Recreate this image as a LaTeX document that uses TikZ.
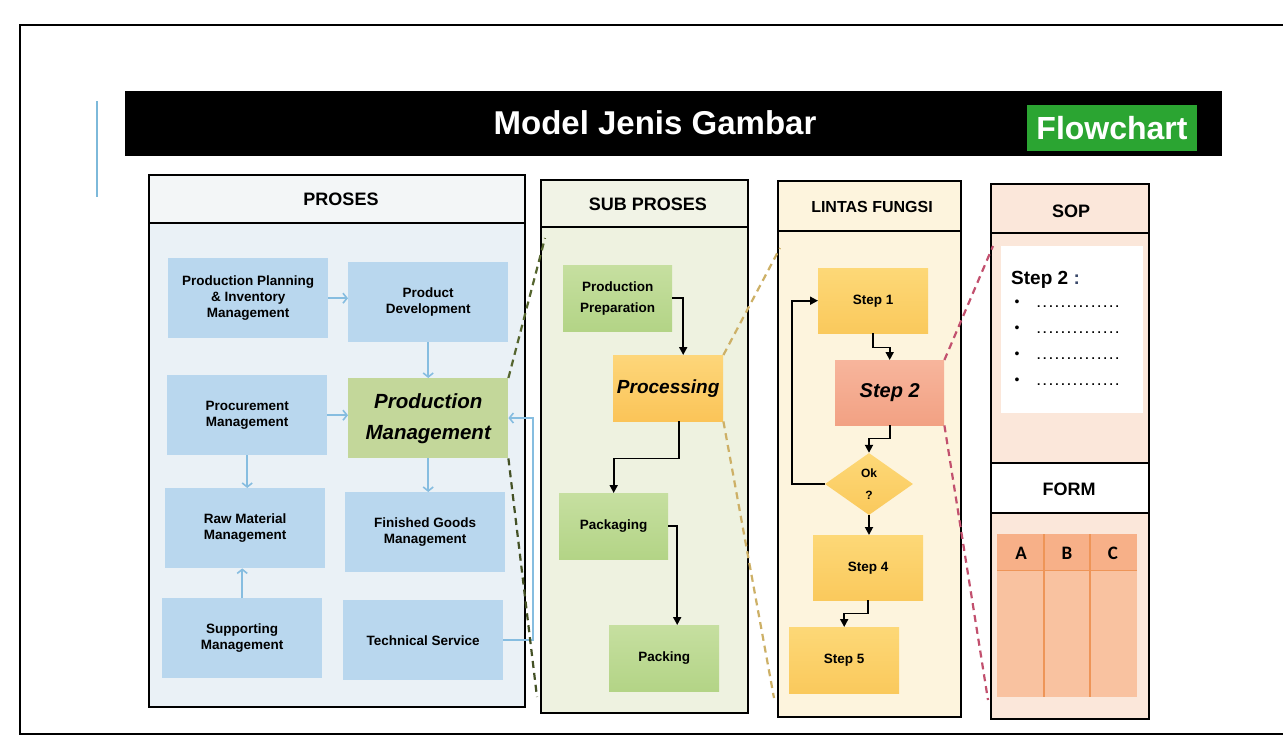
\documentclass[tikz,border=0pt]{standalone}
\usepackage{fontspec}
\setmainfont{Liberation Sans}
\newfontfamily\carlito{Carlito}
\usetikzlibrary{arrows.meta,shapes.geometric}

\definecolor{boxblue}{HTML}{B9D7EE}
\definecolor{arrowblue}{HTML}{86BDE0}
\definecolor{pmgreen}{HTML}{C3D79A}
\definecolor{prosesbg}{HTML}{EAF1F6}
\definecolor{proseshd}{HTML}{F3F6F7}
\definecolor{subbg}{HTML}{EEF2E0}
\definecolor{subhd}{HTML}{F1F3E6}
\definecolor{subgreenA}{HTML}{C6DFA0}
\definecolor{subgreenB}{HTML}{B3D486}
\definecolor{procA}{HTML}{FDD67A}
\definecolor{procB}{HTML}{FBC458}
\definecolor{lintasbg}{HTML}{FDF4DD}
\definecolor{stepA}{HTML}{FDD877}
\definecolor{stepB}{HTML}{FAC95C}
\definecolor{salmonA}{HTML}{F7B59C}
\definecolor{salmonB}{HTML}{F2A183}
\definecolor{sopbg}{HTML}{FBE7DA}
\definecolor{tabhead}{HTML}{F7B088}
\definecolor{tabbody}{HTML}{F9C2A0}
\definecolor{tabline}{HTML}{EE9558}
\definecolor{flowgreen}{HTML}{2BA532}
\definecolor{linkblue}{HTML}{7DB9DA}
\definecolor{dashgreen}{HTML}{55652F}
\definecolor{dashyellow}{HTML}{CDB066}
\definecolor{dashred}{HTML}{C2506E}
\definecolor{coltext}{HTML}{3B4A6B}

\newcommand\sopdots{.\kern2.7pt.\kern2.7pt.\kern2.7pt.\kern2.7pt.\kern2.7pt.\kern2.7pt.\kern2.7pt.\kern2.7pt.\kern2.7pt.\kern2.7pt.\kern2.7pt.\kern2.7pt.\kern2.7pt.}

\tikzset{
  panel/.style={draw=black, line width=2.2pt},
  hdtext/.style={font=\bfseries\fontsize{18}{20}\selectfont, inner sep=0pt},
  pbox/.style={fill=boxblue, minimum width=160pt, minimum height=80pt, inner sep=0pt,
    anchor=north west, align=center, font=\bfseries\fontsize{13.5}{16}\selectfont},
  gbox/.style={top color=subgreenA, bottom color=subgreenB, minimum width=109pt,
    minimum height=66pt, inner sep=0pt, anchor=north west, align=center,
    font=\bfseries\fontsize{13.5}{21}\selectfont},
  sbox/.style={top color=stepA, bottom color=stepB, minimum width=110pt,
    minimum height=65pt, inner sep=0pt, anchor=north west, align=center,
    font=\bfseries\fontsize{13.5}{16}\selectfont},
  bigital/.style={font=\bfseries\itshape\fontsize{20.5}{31}\selectfont},
  barrow/.style={draw=arrowblue, line width=1.6pt, -{Straight Barb[length=4pt,width=10pt]}},
  karrow/.style={draw=black, line width=1.8pt, -{Triangle[length=8pt,width=8pt]}},
  zoomdash/.style={line width=2.2pt, dash pattern=on 7pt off 5pt},
  tabletter/.style={font=\carlito\bfseries\fontsize{19}{20}\selectfont, inner sep=0pt},
}

\begin{document}
\begin{tikzpicture}[x=1pt,y=-1pt]
\useasboundingbox (0,0) rectangle (1283,745);
\fill[white] (0,0) rectangle (1283,745);

% page frame
\draw[line width=1.8pt] (1290,25) -- (20,25) -- (20,734) -- (1290,734);
\draw[linkblue, line width=1.4pt] (97,101) -- (97,197);

% title bar
\fill[black] (125,91) rectangle (1222,156);
\node[font=\bfseries\fontsize{33}{38}\selectfont, text=white, inner sep=0pt] (ttl) at (655,123) {Model Jenis Gambar};
\node[fill=flowgreen, text=white, font=\bfseries\fontsize{32}{38}\selectfont,
      minimum width=170pt, minimum height=46pt, inner sep=0pt] (flow) at (1112,128) {Flowchart};

% ---------- PROSES panel ----------
\fill[prosesbg] (149,175) rectangle (525,707);
\fill[proseshd] (149,175) rectangle (525,223);
\draw[panel] (149,223) -- (525,223);
\draw[panel] (149,175) rectangle (525,707);
\node[hdtext] (hproses) at (341,199) {PROSES};

\node[pbox] (pp) at (168,258) {Production Planning\\\& Inventory\\Management};
\node[pbox] (pd) at (348,262) {Product\\Development};
\node[pbox] (proc) at (167,375) {Procurement\\Management};
\node[pbox, fill=pmgreen, bigital] (pm) at (348,378) {Production\\Management};
\node[pbox] (raw) at (165,488) {Raw Material\\Management};
\node[pbox] (fg) at (345,492) {Finished Goods\\Management};
\node[pbox] (supp) at (162,598) {Supporting\\Management};
\node[pbox] (tech) at (343,600) {Technical Service};

\draw[barrow] (pp.east) -- (pp.east -| pd.west);
\draw[barrow] (pd.south) -- (pd.south |- pm.north);
\draw[barrow] (proc.east) -- (proc.east -| pm.west);
\draw[barrow] (proc.south) -- (proc.south |- raw.north);
\draw[barrow] (pm.south) -- (pm.south |- fg.north);
\draw[barrow] (supp.north) -- (supp.north |- raw.south);
\coordinate (tsv) at (533,418);
\draw[barrow] (tech.east) -| (tsv) -- (tsv -| pm.east);

% ---------- SUB PROSES panel ----------
\fill[subbg] (541,180) rectangle (748,713);
\fill[subhd] (541,180) rectangle (748,227);
\draw[panel] (541,227) -- (748,227);
\draw[panel] (541,180) rectangle (748,713);
\node[hdtext] (hsub) at (648,204) {SUB PROSES};

\node[gbox] (prep) at (563,265) {Production\\Preparation};
\node[gbox, top color=procA, bottom color=procB, minimum width=110pt,
      font=\bfseries\itshape\fontsize{19}{22}\selectfont] (procg) at (613,355) {Processing};
\node[gbox] (pkg) at (559,493) {Packaging};
\node[gbox, minimum width=110pt] (pck) at (609,625) {Packing};

\draw[karrow] (prep.east) -| ([xshift=15pt]procg.north);
\draw[karrow] ([xshift=11pt]procg.south) -- ++(0,37) -| (pkg.north);
\draw[karrow] (pkg.east) -| ([xshift=13pt]pck.north);

% ---------- LINTAS FUNGSI panel ----------
\fill[lintasbg] (778,181) rectangle (961,717);
\draw[panel] (778,231) -- (961,231);
\draw[panel] (778,181) rectangle (961,717);
\node[hdtext, font=\bfseries\fontsize{16}{18}\selectfont] (hlintas) at (872,207) {LINTAS FUNGSI};

\node[sbox] (s1) at (818,268) {Step 1};
\node[sbox, top color=salmonA, bottom color=salmonB, minimum width=109pt,
      font=\bfseries\itshape\fontsize{20}{24}\selectfont] (s2) at (835,360) {Step 2};
\node[diamond, top color=stepA, bottom color=stepB, minimum width=88pt, minimum height=62pt,
      inner sep=0pt, align=center, font=\bfseries\fontsize{12}{22}\selectfont] (ok) at (869,484) {Ok\\?};
\node[sbox] (s4) at (813,535) {Step 4};
\node[sbox, minimum height=66pt] (s5) at (789,627) {Step 5};

\draw[karrow] (s1.south) -- ++(0,14) -| (s2.north);
\draw[karrow] (s2.south) -- ++(0,13) -| (ok.north);
\draw[karrow] (ok.south) -- (ok.south |- s4.north);
\draw[karrow] (s4.south) -- ++(0,13) -| (s5.north);
\draw[karrow] (ok.west) -- ++(-33,0) |- (s1.west);

% ---------- SOP / FORM panel ----------
\fill[sopbg] (991,184) rectangle (1149,719);
\draw[panel] (991,233) -- (1149,233);
\node[hdtext] (hsop) at (1071,211) {SOP};
\fill[white] (1001,246) rectangle (1143,413);
\node[anchor=west, inner sep=0pt, font=\bfseries\fontsize{19}{22}\selectfont] (sopstep) at (1011,280)
  {Step 2 \textcolor{coltext}{:}};
\foreach \i/\yy in {1/303,2/329,3/355,4/381}{
  \node[inner sep=0pt, font=\fontsize{14}{14}\selectfont] (bul\i) at (1017,\yy) {•};
  \node[anchor=west, inner sep=0pt, font=\bfseries\fontsize{12}{12}\selectfont] (dots\i) at (1037,\yy+4) {\sopdots};
}
\fill[white] (991,463) rectangle (1149,513);
\draw[panel] (991,463) -- (1149,463);
\draw[panel] (991,513) -- (1149,513);
\node[hdtext] (hform) at (1069,489) {FORM};
\fill[tabbody] (997,570) rectangle (1137,697);
\fill[tabhead] (997,534) rectangle (1137,570);
\draw[tabline, line width=0.6pt] (997,570) -- (1137,570);
\draw[tabline, line width=1.2pt] (1044,534) -- (1044,697);
\draw[tabline, line width=1.2pt] (1090,534) -- (1090,697);
\node[tabletter] (ca) at (1021,553) {A};
\node[tabletter] (cb) at (1067,553) {B};
\node[tabletter] (cc) at (1113,553) {C};
\draw[panel] (991,184) rectangle (1149,719);

% ---------- zoom connectors ----------
\coordinate (subtl) at (545,238);
\coordinate (subbl) at (537,697);
\coordinate (lintl) at (780,248);
\coordinate (linbl) at (774,698);
\coordinate (soptl) at (993,246);
\coordinate (sopbl) at (988,700);
\draw[zoomdash, dashgreen] (pm.north east) -- (subtl);
\draw[zoomdash, dashgreen!80!black] (pm.south east) -- (subbl);
\draw[zoomdash, dashyellow] (procg.north east) -- (lintl);
\draw[zoomdash, dashyellow] (procg.south east) -- (linbl);
\draw[zoomdash, dashred] (s2.north east) -- (soptl);
\draw[zoomdash, dashred] (s2.south east) -- (sopbl);
\end{tikzpicture}
\end{document}
